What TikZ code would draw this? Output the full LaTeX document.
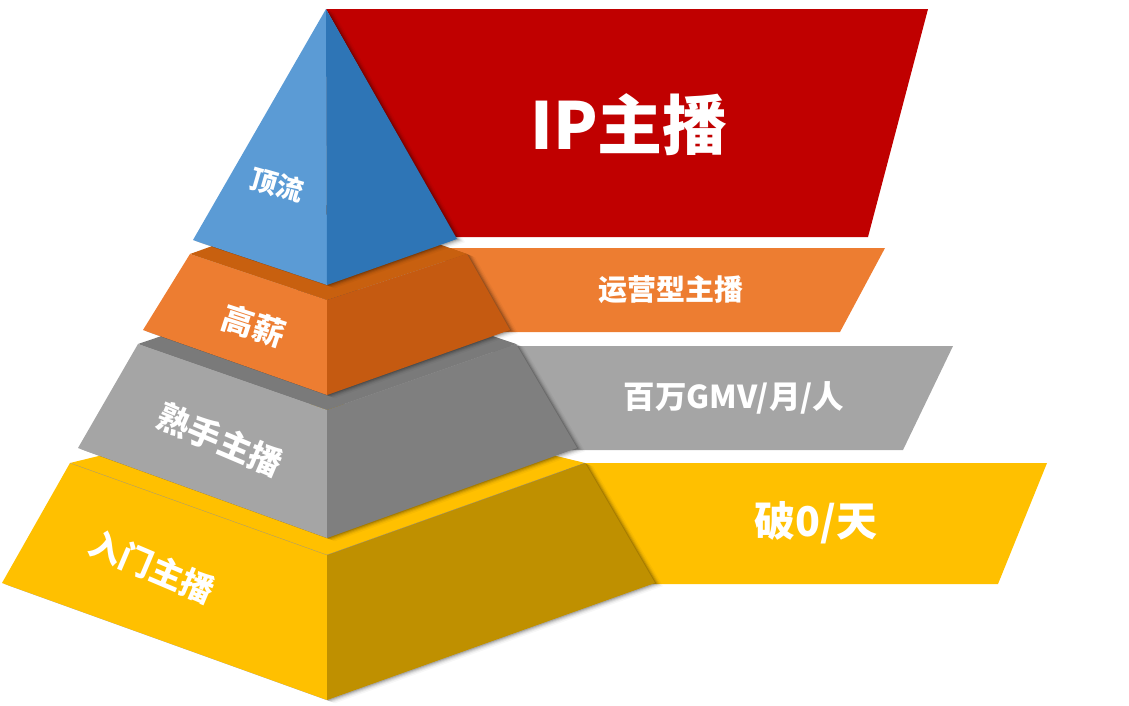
\documentclass[tikz,border=0pt]{standalone}
\usepackage{fontspec}
\setmainfont{Noto Sans CJK SC}
\definecolor{cred}{HTML}{C00000}
\definecolor{bluel}{HTML}{5B9BD5}
\definecolor{bluer}{HTML}{2E75B6}
\definecolor{orgl}{HTML}{ED7D31}
\definecolor{orgr}{HTML}{C55A11}
\definecolor{orgt}{HTML}{C8600F}
\definecolor{gryl}{HTML}{A5A5A5}
\definecolor{gryr}{HTML}{7F7F7F}
\definecolor{gryt}{HTML}{7A7A7A}
\definecolor{yell}{HTML}{FFC000}
\definecolor{yelr}{HTML}{BF9000}
\begin{document}
\begin{tikzpicture}[x=1pt,y=-1pt,
  lbl/.style={text=white,inner sep=0pt},
  shade/.style={fill=black,opacity=#1},
]
\useasboundingbox (0,0) rectangle (1129,705);
% banners
\fill[cred] (326,9) -- (928,9) -- (868,237) -- (455,237) -- cycle;
\fill[orgl] (440,248) -- (885,248) -- (840,332) -- (480,332) -- cycle;
\fill[gryl] (490,346) -- (953,346) -- (903,450) -- (540,450) -- cycle;
\fill[yell] (560,463) -- (1047,463) -- (998,584) -- (620,584) -- cycle;
% yellow layer
\foreach \s/\o in {1.5/0.14,3/0.10,4.5/0.07,6/0.05,8/0.03}
  \fill[shade=\o,shift={(\s,0.4*\s)}] (70,463) -- (327,400) -- (585,463) -- (655,583) -- (327,700) -- (2,583) -- cycle;
\fill[yell] (70,463) -- (327,400) -- (585,463) -- (327,555) -- cycle;
\fill[yell] (70,463) -- (327,555) -- (327,700) -- (2,583) -- cycle;
\fill[yelr] (327,555) -- (585,463) -- (655,583) -- (327,700) -- cycle;
\draw[black!45,line width=0.4pt,opacity=0.6] (70,463) -- (327,555) -- (585,463);
% gray layer
\foreach \s/\o in {1.5/0.14,3/0.10,4.5/0.07,6/0.05,8/0.03}
  \fill[shade=\o,shift={(\s,0.4*\s)}] (138,344) -- (327,280) -- (516,344) -- (577,448) -- (327,538) -- (78,448) -- cycle;
\fill[gryt] (138,344) -- (327,280) -- (516,344) -- (327,410) -- cycle;
\fill[gryl] (138,344) -- (327,410) -- (327,538) -- (78,448) -- cycle;
\fill[gryr] (327,410) -- (516,344) -- (577,448) -- (327,538) -- cycle;
% orange layer
\foreach \s/\o in {1.5/0.14,3/0.10,4.5/0.07,6/0.05,8/0.03}
  \fill[shade=\o,shift={(\s,0.4*\s)}] (190,254) -- (327,205) -- (467,254) -- (510,330) -- (327,395) -- (143,330) -- cycle;
\fill[orgt] (190,254) -- (327,205) -- (467,254) -- (327,300) -- cycle;
\fill[orgl] (190,254) -- (327,300) -- (327,395) -- (143,330) -- cycle;
\fill[orgr] (327,300) -- (467,254) -- (510,330) -- (327,395) -- cycle;
% blue pyramid
\foreach \s/\o in {1.5/0.14,3/0.10,4.5/0.07,6/0.05,8/0.03}
  \fill[shade=\o,shift={(\s,0.4*\s)}] (326,9) -- (457,239) -- (327,285) -- (193,240) -- cycle;
\fill[bluel] (326,9) -- (193,240) -- (327,285) -- cycle;
\fill[bluer] (326,9) -- (327,285) -- (457,239) -- cycle;
% texts
\node[lbl,font=\bfseries\fontsize{65}{65}\selectfont] (tip) at (629,125) {IP主播};
\node[lbl,font=\bfseries\fontsize{29}{29}\selectfont] (top2) at (671,290) {运营型主播};
\node[lbl,font=\bfseries\fontsize{31.5}{31.5}\selectfont] (top3) at (734,398) {百万GMV/月/人};
\node[lbl,font=\bfseries\fontsize{41}{41}\selectfont] (top4) at (816,523) {破0/天};
\node[lbl,font=\bfseries\fontsize{27}{27}\selectfont,rotate=-16] (l1) at (277,185) {顶流};
\node[lbl,font=\bfseries\fontsize{32}{32}\selectfont,rotate=-18] (l2) at (254,326) {高薪};
\node[lbl,font=\bfseries\fontsize{33}{33}\selectfont,rotate=-23] (l3) at (220,440) {熟手主播};
\node[lbl,font=\bfseries\fontsize{33}{33}\selectfont,rotate=-23] (l4) at (152,567) {入门主播};
\end{tikzpicture}
\end{document}
